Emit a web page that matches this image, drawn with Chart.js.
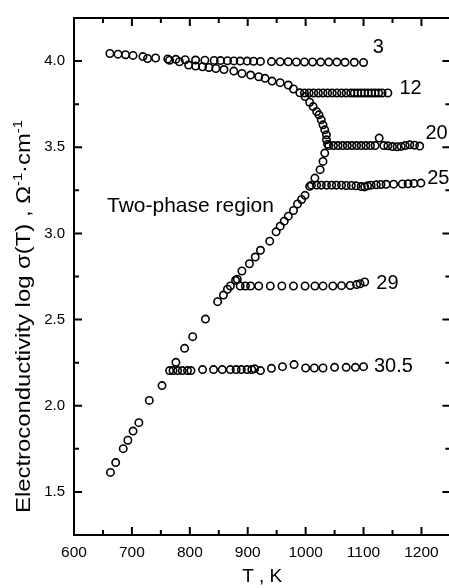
<!DOCTYPE html>
<html>
<head>
<meta charset="utf-8">
<script src="https://cdn.jsdelivr.net/npm/chart.js@4/dist/chart.umd.min.js"></script>
<style>
html, body { margin: 0; padding: 0; background: #fff; overflow: hidden; }
#wrap { position: relative; width: 456px; height: 588px; }
</style>
</head>
<body>
<div id="wrap"><canvas id="c" width="456" height="588"></canvas></div>
<script>
// ---- data (T in K, log sigma) ----
const s3T     = [662,676,689,702,719,741,762,776,792,810,826,842,853,865,876,887,899,910,922,941,956,970,984,998,1012,1026,1040,1054,1068,1084,1100];
const s3LogS  = [4.044,4.040,4.037,4.033,4.026,4.018,4.012,4.010,4.008,4.006,4.005,4.004,4.003,4.002,4.001,4.000,4.000,3.999,3.998,3.997,3.996,3.996,3.995,3.995,3.995,3.994,3.994,3.994,3.993,3.993,3.992];

const s12T    = [727,765,782,798,810,822,833,845,859,876,890,905,919,930,942,956,970,979,990,998,1006,1014,1022,1030,1038,1046,1054,1062,1070,1078,1084,1090,1096,1102,1108,1114,1120,1126,1132,1142];
const s12LogS = [4.015,4.005,3.996,3.977,3.971,3.967,3.963,3.957,3.951,3.942,3.928,3.919,3.909,3.900,3.884,3.875,3.861,3.838,3.816,3.815,3.815,3.815,3.815,3.815,3.815,3.815,3.815,3.815,3.815,3.815,3.815,3.815,3.815,3.815,3.815,3.815,3.815,3.815,3.815,3.815];

const s20T    = [999,1007,1013,1019,1023,1027,1030,1033,1036,1036,1038,1040,1048,1056,1064,1072,1080,1088,1096,1104,1112,1120,1127,1135,1142,1150,1158,1165,1172,1180,1188,1197];
const s20LogS = [3.794,3.761,3.736,3.707,3.688,3.659,3.630,3.601,3.572,3.543,3.518,3.510,3.510,3.510,3.510,3.510,3.510,3.510,3.510,3.510,3.510,3.510,3.553,3.510,3.508,3.504,3.503,3.505,3.510,3.514,3.512,3.507];

const s25T    = [1033,1030,1025,1016,1010,1019,1027,1036,1045,1053,1062,1070,1079,1087,1096,1102,1107,1113,1122,1130,1139,1152,1167,1177,1187,1199];
const s25LogS = [3.466,3.418,3.370,3.321,3.280,3.280,3.280,3.280,3.280,3.280,3.280,3.278,3.278,3.276,3.272,3.270,3.276,3.280,3.282,3.284,3.285,3.286,3.287,3.288,3.290,3.292];

const s29T    = [1007,999,993,986,979,970,963,956,949,938,922,913,903,890,882,870,879,887,896,905,919,939,959,979,999,1016,1030,1047,1062,1077,1088,1094,1102];
const s29LogS = [3.273,3.221,3.197,3.171,3.133,3.100,3.071,3.042,3.009,2.955,2.902,2.863,2.824,2.782,2.734,2.695,2.728,2.695,2.695,2.695,2.695,2.695,2.695,2.695,2.695,2.695,2.695,2.695,2.697,2.698,2.703,2.708,2.718];

const s305T    = [865,858,848,827,805,791,776,752,730,712,702,693,685,672,663,765,771,779,787,796,802,822,841,856,870,880,889,899,907,912,922,941,960,980,1000,1015,1030,1050,1070,1086,1100];
const s305LogS = [2.676,2.642,2.604,2.503,2.401,2.333,2.252,2.117,2.031,1.902,1.853,1.800,1.751,1.670,1.613,2.204,2.204,2.204,2.204,2.204,2.204,2.210,2.210,2.210,2.210,2.210,2.210,2.210,2.210,2.214,2.204,2.217,2.227,2.239,2.219,2.219,2.219,2.223,2.223,2.223,2.227];

// ---- ticks ----
const xTickValues  = [600,700,800,900,1000,1100,1200];
const xMinorValues = [650,750,850,950,1050,1150];
const yTickValues  = [1.5,2.0,2.5,3.0,3.5,4.0];
const yMinorValues = [1.75,2.25,2.75,3.25,3.75];

// ---- curve labels ----
const curveLabels = ['3','12','20','25','29','30.5'];
const curveLabelT = [1116,1162,1207,1210,1122,1118];
const curveLabelLogS = [4.077,3.840,3.580,3.320,2.709,2.227];
const regionLabel = 'Two-phase region';
const regionLabelT = 657, regionLabelLogS = 3.158;

const xTitle = 'T , K';

const FONT = "'Liberation Sans', Arial, Helvetica, sans-serif";

function pts(T, L) { return T.map((t, i) => ({x: t, y: L[i]})); }
const seriesDefs = [
  ['3', s3T, s3LogS], ['12', s12T, s12LogS], ['20', s20T, s20LogS],
  ['25', s25T, s25LogS], ['29', s29T, s29LogS], ['30.5', s305T, s305LogS]
];
const datasets = seriesDefs.map(([name, T, L]) => ({
  label: name,
  data: pts(T, L),
  showLine: false,
  pointStyle: 'circle',
  pointRadius: 3.7,
  pointBorderWidth: 1.6,
  pointBorderColor: '#000',
  pointBackgroundColor: 'rgba(0,0,0,0)'
}));

const framePlugin = {
  id: 'frame',
  afterDraw(chart) {
    const {ctx, chartArea: {left, right, top, bottom}, scales: {x, y}} = chart;
    ctx.save();
    ctx.strokeStyle = '#000';
    ctx.lineWidth = 2;
    ctx.strokeRect(left, top, right - left, bottom - top);
    ctx.beginPath();
    const tick = (vals, len) => {
      vals.forEach(v => {
        const px = x.getPixelForValue(v);
        ctx.moveTo(px, bottom); ctx.lineTo(px, bottom - len);
        ctx.moveTo(px, top); ctx.lineTo(px, top + len);
      });
    };
    const ytick = (vals, len) => {
      vals.forEach(v => {
        const py = y.getPixelForValue(v);
        ctx.moveTo(left, py); ctx.lineTo(left + len, py);
        ctx.moveTo(right, py); ctx.lineTo(right - len, py);
      });
    };
    tick(xTickValues, 8); tick(xMinorValues, 5);
    ytick(yTickValues, 8); ytick(yMinorValues, 5);
    ctx.stroke();

    // curve labels
    ctx.fillStyle = '#000';
    ctx.textBaseline = 'middle';
    ctx.textAlign = 'left';
    ctx.font = '20px ' + FONT;
    curveLabels.forEach((t, i) => {
      ctx.fillText(t, x.getPixelForValue(curveLabelT[i]), y.getPixelForValue(curveLabelLogS[i]));
    });
    ctx.font = '21px ' + FONT;
    ctx.fillText(regionLabel, x.getPixelForValue(regionLabelT), y.getPixelForValue(regionLabelLogS));

    // y-axis title with superscripts
    const parts = [
      ['Electroconductivity log σ(T) , Ω', 21, 0],
      ['-1', 13, -8],
      ['·cm', 21, 0],
      ['-1', 13, -8]
    ];
    let total = 0;
    parts.forEach(p => { ctx.font = p[1] + 'px ' + FONT; total += ctx.measureText(p[0]).width; });
    const target = 393;
    const sx = target / total;
    ctx.translate(29.5, 513);
    ctx.rotate(-Math.PI / 2);
    ctx.scale(sx, 1);
    ctx.textBaseline = 'alphabetic';
    let cx = 0;
    parts.forEach(p => {
      ctx.font = p[1] + 'px ' + FONT;
      ctx.fillText(p[0], cx, p[2]);
      cx += ctx.measureText(p[0]).width;
    });
    ctx.restore();
  }
};

new Chart(document.getElementById('c'), {
  type: 'scatter',
  data: { datasets },
  options: {
    responsive: false,
    devicePixelRatio: 1,
    animation: false,
    events: [],
    layout: { padding: { top: 15, right: 3, left: 0, bottom: 0 } },
    plugins: { legend: { display: false }, tooltip: { enabled: false } },
    scales: {
      x: {
        type: 'linear', min: 600, max: 1250,
        grid: { display: false, drawTicks: false },
        border: { display: false },
        afterBuildTicks: s => { s.ticks = xTickValues.map(v => ({value: v})); },
        afterFit: s => { s.height = 53; },
        ticks: { color: '#000', padding: 8, font: { family: FONT, size: 15.5 }, callback: v => String(v), maxRotation: 0 },
        title: { display: true, text: xTitle, color: '#000', font: { family: FONT, size: 19 }, padding: { top: 0, bottom: 0 } }
      },
      y: {
        type: 'linear', min: 1.25, max: 4.25,
        grid: { display: false, drawTicks: false },
        border: { display: false },
        afterBuildTicks: s => { s.ticks = yTickValues.map(v => ({value: v})); },
        afterFit: s => { s.width = 74; },
        ticks: { color: '#000', padding: 9, font: { family: FONT, size: 15 }, callback: v => v.toFixed(1) }
      }
    }
  },
  plugins: [framePlugin]
});
</script>
</body>
</html>
